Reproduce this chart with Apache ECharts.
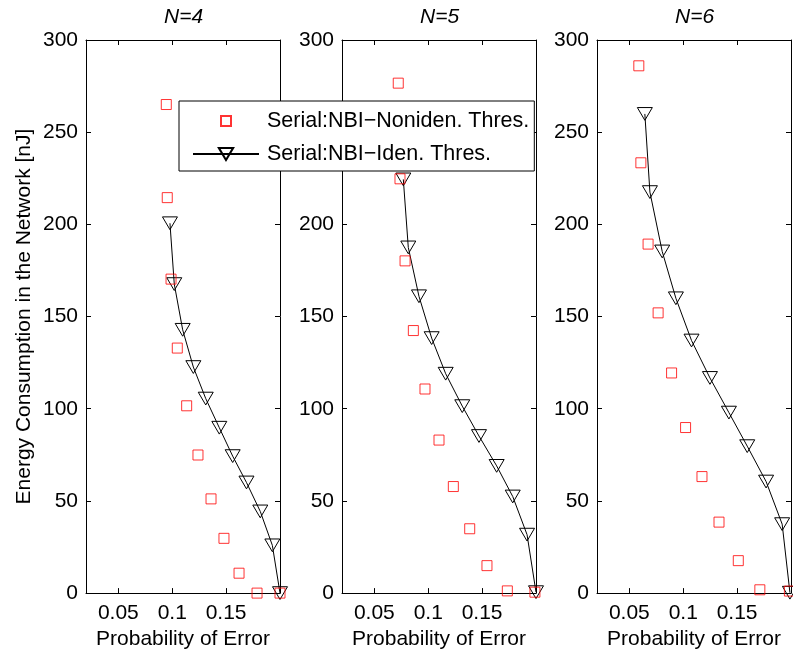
<!DOCTYPE html>
<html>
<head>
<meta charset="utf-8">
<script src="https://cdn.jsdelivr.net/npm/echarts@6/dist/echarts.min.js"></script>
<style>
html, body { margin: 0; padding: 0; background: #fff; }
#chart { width: 793px; height: 655px; }
</style>
</head>
<body>
<div id="chart"></div>
<script>
// ---- Data ----
var panelTitles = ['N=4', 'N=5', 'N=6'];
var seriesNames = ['Serial:NBI\u2212Noniden. Thres.', 'Serial:NBI\u2212Iden. Thres.'];

var xTicks = [0.05, 0.1, 0.15];
var xMin = 0.02, xMax = 0.2;
var yMin = 0, yMax = 300, yStep = 50;

// N = 4
var n4NonidenProb   = [0.0945, 0.0954, 0.0989, 0.1047, 0.1134, 0.1239, 0.1360, 0.1480, 0.1620, 0.1787, 0.2000];
var n4NonidenEnergy = [265.0, 214.5, 170.3, 132.9, 101.6, 74.9, 51.1, 29.7, 10.8, 0.0, 0.0];
var n4IdenProb      = [0.0979, 0.1019, 0.1097, 0.1196, 0.1311, 0.1437, 0.1561, 0.1689, 0.1817, 0.1929, 0.2000];
var n4IdenEnergy    = [200.6, 167.6, 142.8, 122.6, 105.5, 89.7, 74.3, 60.0, 44.3, 25.9, 0.0];

// N = 5
var n5NonidenProb   = [0.0722, 0.0738, 0.0785, 0.0862, 0.0970, 0.1100, 0.1233, 0.1385, 0.1545, 0.1734, 0.1990];
var n5NonidenEnergy = [276.6, 224.7, 180.2, 142.4, 110.7, 83.0, 57.8, 34.9, 14.9, 1.2, 0.5];
var n5IdenProb      = [0.0769, 0.0815, 0.0914, 0.1032, 0.1162, 0.1316, 0.1471, 0.1635, 0.1784, 0.1917, 0.2000];
var n5IdenEnergy    = [224.4, 187.5, 161.0, 138.3, 119.0, 101.4, 85.2, 69.0, 52.4, 31.7, 0.5];

// N = 6
var n6NonidenProb   = [0.0588, 0.0607, 0.0674, 0.0767, 0.0892, 0.1022, 0.1174, 0.1332, 0.1511, 0.1711, 0.1985];
var n6NonidenEnergy = [286.0, 233.4, 189.3, 152.0, 119.4, 89.8, 63.2, 38.5, 17.6, 1.8, 1.1];
var n6IdenProb      = [0.0644, 0.0691, 0.0805, 0.0932, 0.1077, 0.1248, 0.1424, 0.1594, 0.1769, 0.1918, 0.1990];
var n6IdenEnergy    = [259.9, 217.5, 185.3, 159.9, 137.0, 116.7, 97.9, 79.7, 60.5, 37.4, 0.2];

// ---- Build chart ----
var FONT = "'Liberation Sans', Arial, Helvetica, sans-serif";
var FS = 21;

function zip(xs, ys) { return xs.map(function (x, i) { return [x, ys[i]]; }); }

var panels = [
  { non: zip(n4NonidenProb, n4NonidenEnergy), iden: zip(n4IdenProb, n4IdenEnergy) },
  { non: zip(n5NonidenProb, n5NonidenEnergy), iden: zip(n5IdenProb, n5IdenEnergy) },
  { non: zip(n6NonidenProb, n6NonidenEnergy), iden: zip(n6IdenProb, n6IdenEnergy) }
];

var gridLefts = [86, 342, 597];
var titleLefts = [164, 420, 675];
var TRI = 'path://M0,1.5 L20,1.5 L10,18.5 Z M0,0 M20,20';
var SQ_LEGEND = 'path://M0,0 M18,18 M4,4 L14,4 L14,14 L4,14 Z';

var grids = [], xAxes = [], yAxes = [], series = [], titles = [];
panels.forEach(function (p, i) {
  grids.push({ left: gridLefts[i], top: 40, width: 194, height: 555, containLabel: false });
  titles.push({
    text: panelTitles[i], left: titleLefts[i], top: 7, padding: 0,
    textStyle: { fontFamily: FONT, fontSize: FS, fontStyle: 'italic', fontWeight: 'normal', color: '#000' }
  });
  var axLine = { show: true, onZero: false, lineStyle: { color: '#000', width: 1 } };
  xAxes.push({
    gridIndex: i, type: 'value', position: 'bottom', min: xMin, max: xMax,
    axisLine: axLine,
    axisTick: { show: true, inside: true, length: 5, customValues: xTicks, lineStyle: { color: '#000' } },
    axisLabel: { show: true, customValues: xTicks, margin: 10, color: '#000', fontFamily: FONT, fontSize: FS },
    splitLine: { show: false },
    name: 'Probability of Error', nameLocation: 'middle', nameGap: 35,
    nameTextStyle: { color: '#000', fontFamily: FONT, fontSize: FS }
  });
  xAxes.push({
    gridIndex: i, type: 'value', position: 'top', min: xMin, max: xMax,
    axisLine: axLine,
    axisTick: { show: true, inside: true, length: 5, customValues: xTicks, lineStyle: { color: '#000' } },
    axisLabel: { show: false },
    splitLine: { show: false }
  });
  var yLeft = {
    gridIndex: i, type: 'value', position: 'left', min: yMin, max: yMax, interval: yStep,
    axisLine: axLine,
    axisTick: { show: true, inside: true, length: 5, lineStyle: { color: '#000' } },
    axisLabel: { show: true, margin: 8, color: '#000', fontFamily: FONT, fontSize: FS },
    splitLine: { show: false }
  };
  if (i === 0) {
    yLeft.name = 'Energy Consumption in the Network [nJ]';
    yLeft.nameLocation = 'middle';
    yLeft.nameGap = 51;
    yLeft.nameTextStyle = { color: '#000', fontFamily: FONT, fontSize: FS };
  }
  yAxes.push(yLeft);
  yAxes.push({
    gridIndex: i, type: 'value', position: 'right', min: yMin, max: yMax, interval: yStep,
    axisLine: axLine,
    axisTick: { show: true, inside: true, length: 5, lineStyle: { color: '#000' } },
    axisLabel: { show: false },
    splitLine: { show: false }
  });

  series.push({
    name: seriesNames[1], type: 'line', xAxisIndex: 2 * i, yAxisIndex: 2 * i,
    data: p.iden, symbol: TRI, symbolSize: 15, showAllSymbol: true, clip: false,
    lineStyle: { color: '#000', width: 1 },
    itemStyle: { color: 'rgba(0,0,0,0)', borderColor: '#000', borderWidth: 1 },
    emphasis: { disabled: true }, animation: false, z: 3
  });
  series.push({
    name: seriesNames[0], type: 'scatter', xAxisIndex: 2 * i, yAxisIndex: 2 * i,
    data: p.non, symbol: 'rect', symbolSize: 10, clip: false,
    itemStyle: { color: 'rgba(0,0,0,0)', borderColor: '#ff0000', borderWidth: 1 },
    emphasis: { disabled: true }, animation: false, z: 4
  });
});

var chart = echarts.init(document.getElementById('chart'), null, { renderer: 'canvas' });
chart.setOption({
  animation: false,
  backgroundColor: '#fff',
  title: titles,
  grid: grids,
  xAxis: xAxes,
  yAxis: yAxes,
  legend: {
    orient: 'vertical', left: 179, top: 101,
    padding: [9, 5, 6, 13],
    itemWidth: 66, itemHeight: 18, itemGap: 11,
    backgroundColor: '#fff', borderColor: '#000', borderWidth: 1, borderRadius: 0,
    selectedMode: false,
    textStyle: { color: '#000', fontFamily: FONT, fontSize: 21.5, lineHeight: 21, padding: [0, 0, 0, 3] },
    data: [
      { name: seriesNames[0], icon: SQ_LEGEND },
      { name: seriesNames[1] }
    ],
    z: 10
  },
  series: series
});
</script>
</body>
</html>
